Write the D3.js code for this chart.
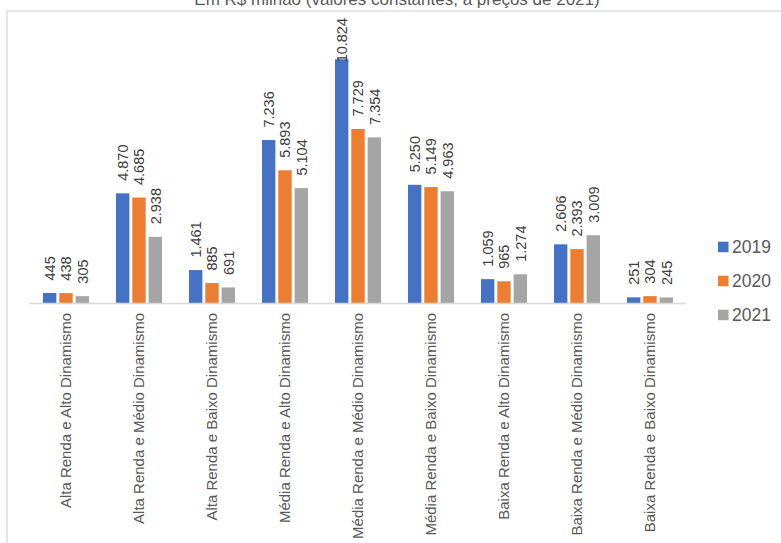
<!DOCTYPE html>
<html>
<head>
<meta charset="utf-8">
<script src="https://cdn.jsdelivr.net/npm/d3@7"></script>
<style>
  body { margin: 0; background: #fff; }
  svg { display: block; font-family: "Liberation Sans", Arial, sans-serif; }
</style>
</head>
<body>
<svg id="chart" width="781" height="543"></svg>
<script>
// Chart data
const categories = [
  "Alta Renda e Alto Dinamismo",
  "Alta Renda e Médio Dinamismo",
  "Alta Renda e Baixo Dinamismo",
  "Média Renda e Alto Dinamismo",
  "Média Renda e Médio Dinamismo",
  "Média Renda e Baixo Dinamismo",
  "Baixa Renda e Alto Dinamismo",
  "Baixa Renda e Médio Dinamismo",
  "Baixa Renda e Baixo Dinamismo"
];
const years = ["2019", "2020", "2021"];
const values2019 = [445, 4870, 1461, 7236, 10824, 5250, 1059, 2606, 251];
const values2020 = [438, 4685, 885, 5893, 7729, 5149, 965, 2393, 304];
const values2021 = [305, 2938, 691, 5104, 7354, 4963, 1274, 3009, 245];
const colors = ["#4472C4", "#ED7D31", "#A5A5A5"];
const title = "Em R$ milhão (valores constantes, a preços de 2021)";

const series = [values2019, values2020, values2021];

const svg = d3.select("#chart");
const fmt = d3.formatLocale({ decimal: ",", thousands: ".", grouping: [3], currency: ["R$", ""] }).format(",d");

// Frame (continues past the right and bottom edges)
svg.append("rect")
  .attr("x", 7).attr("y", 11)
  .attr("width", 800).attr("height", 600)
  .attr("fill", "none")
  .attr("stroke", "#d9d9d9")
  .attr("stroke-width", 1.3);

// Title, mostly cut off at the top
svg.append("text")
  .attr("x", 397).attr("y", 4.5)
  .attr("text-anchor", "middle")
  .attr("font-size", 17)
  .attr("fill", "#595959")
  .text(title);

// Scales
const x = d3.scaleBand().domain(categories).range([29, 686]);
const xSub = d3.scaleBand().domain(years).range([14, 60]).paddingInner(0.18);
const y = d3.scaleLinear().domain([0, 12000]).range([303, 32.8]);

const plotTop = 18;

// Bars and value labels
const groups = svg.append("g").selectAll("g")
  .data(categories)
  .join("g")
  .attr("transform", d => `translate(${x(d)},0)`);

years.forEach((yr, si) => {
  groups.append("rect")
    .attr("x", xSub(yr))
    .attr("y", (d, i) => y(series[si][i]))
    .attr("width", xSub.bandwidth())
    .attr("height", (d, i) => y(0) - y(series[si][i]))
    .attr("fill", colors[si]);

  groups.append("text")
    .attr("class", "val")
    .attr("font-size", 14.5)
    .attr("fill", "#404040")
    .attr("dy", "0.36em")
    .text((d, i) => fmt(series[si][i]))
    .each(function(d, i) {
      const len = this.getComputedTextLength();
      let start = y(series[si][i]) - 12.5;
      if (start - len < plotTop) start = plotTop + len;
      const cx = xSub(yr) + xSub.bandwidth() / 2;
      d3.select(this).attr("transform", `translate(${cx},${start}) rotate(-90)`);
    });
});

// X axis line
svg.append("line")
  .attr("x1", 29).attr("x2", 686)
  .attr("y1", 303.5).attr("y2", 303.5)
  .attr("stroke", "#d9d9d9")
  .attr("stroke-width", 1.3);

// Category labels
svg.append("g").selectAll("text")
  .data(categories)
  .join("text")
  .attr("transform", d => `translate(${x(d) + x.bandwidth() / 2},313) rotate(-90)`)
  .attr("text-anchor", "end")
  .attr("dy", "0.36em")
  .attr("font-size", 15)
  .attr("fill", "#595959")
  .text(d => d);

// Legend
const legend = svg.append("g").selectAll("g")
  .data(years)
  .join("g")
  .attr("transform", (d, i) => `translate(718,${241.7 + i * 34})`);

legend.append("rect")
  .attr("width", 10.5).attr("height", 10.5)
  .attr("fill", (d, i) => colors[i]);

legend.append("text")
  .attr("x", 14).attr("y", 11.6)
  .attr("font-size", 17.5)
  .attr("fill", "#595959")
  .text(d => d);
</script>
</body>
</html>
